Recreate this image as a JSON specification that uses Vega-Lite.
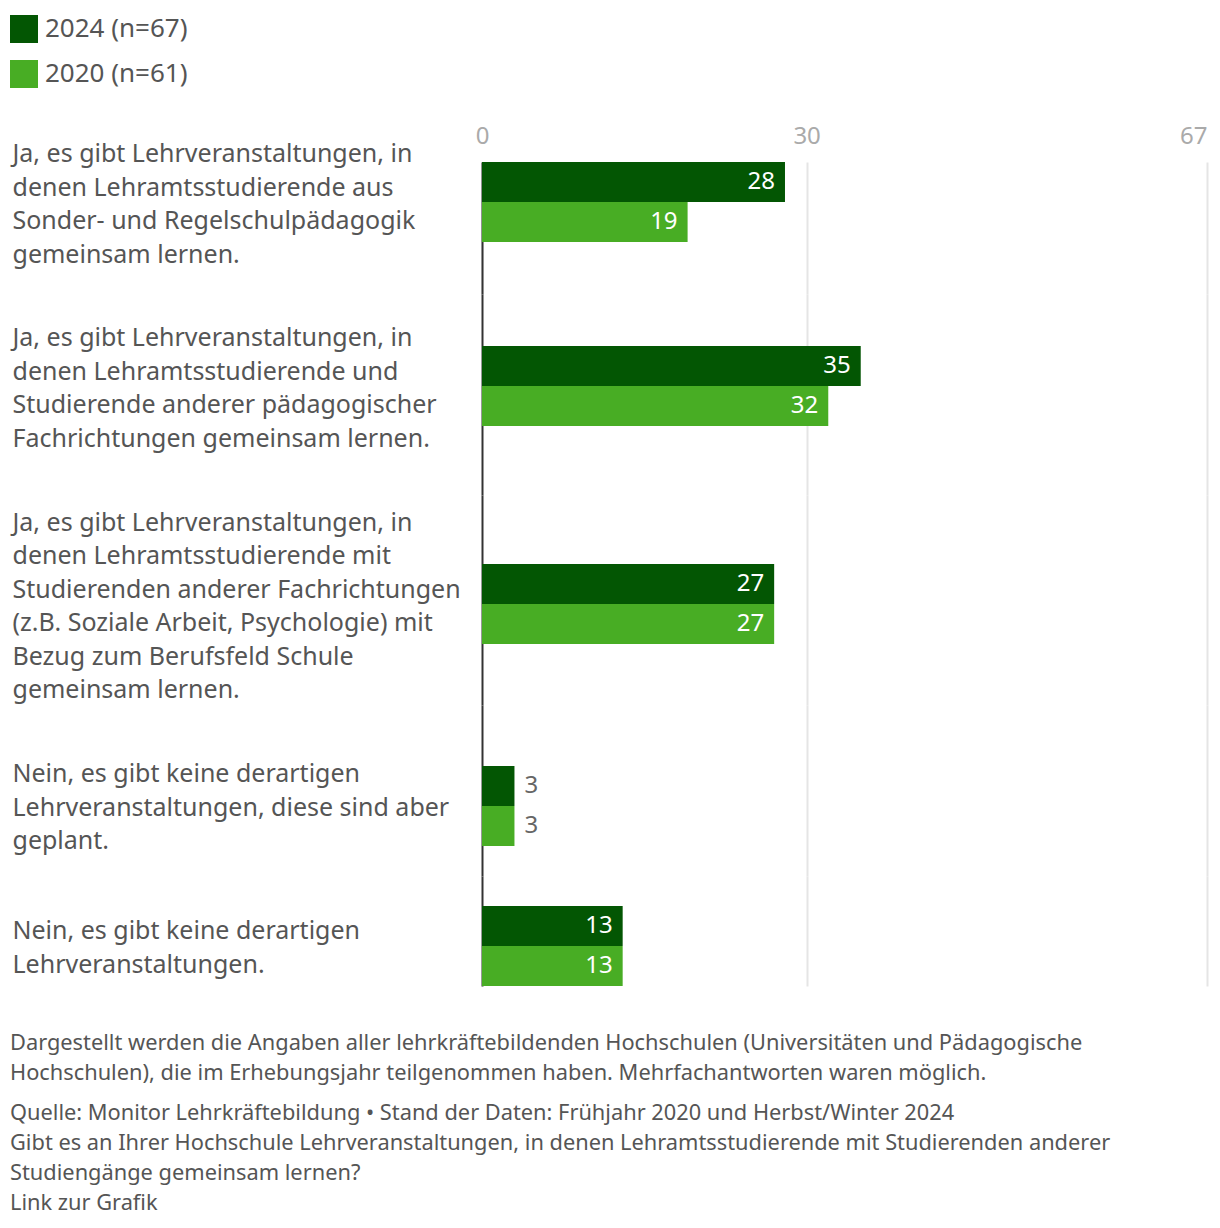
{
  "$schema": "https://vega.github.io/schema/vega-lite/v6.json",
  "padding": {"left": 10, "top": 15, "right": 13, "bottom": 10},
  "config": {
    "view": {"stroke": null},
    "font": "Noto Sans",
    "axis": {"titleFont": "Noto Sans", "labelFont": "Noto Sans"}
  },
  "data": {
    "values": [
      {"gruppe": "A", "antwort": "Ja, es gibt Lehrveranstaltungen, in\ndenen Lehramtsstudierende aus\nSonder- und Regelschulpädagogik\ngemeinsam lernen.", "jahr": "2024 (n=67)", "anzahl": 28},
      {"gruppe": "A", "antwort": "Ja, es gibt Lehrveranstaltungen, in\ndenen Lehramtsstudierende aus\nSonder- und Regelschulpädagogik\ngemeinsam lernen.", "jahr": "2020 (n=61)", "anzahl": 19},
      {"gruppe": "B", "antwort": "Ja, es gibt Lehrveranstaltungen, in\ndenen Lehramtsstudierende und\nStudierende anderer pädagogischer\nFachrichtungen gemeinsam lernen.", "jahr": "2024 (n=67)", "anzahl": 35},
      {"gruppe": "B", "antwort": "Ja, es gibt Lehrveranstaltungen, in\ndenen Lehramtsstudierende und\nStudierende anderer pädagogischer\nFachrichtungen gemeinsam lernen.", "jahr": "2020 (n=61)", "anzahl": 32},
      {"gruppe": "C", "antwort": "Ja, es gibt Lehrveranstaltungen, in\ndenen Lehramtsstudierende mit\nStudierenden anderer Fachrichtungen\n(z.B. Soziale Arbeit, Psychologie) mit\nBezug zum Berufsfeld Schule\ngemeinsam lernen.", "jahr": "2024 (n=67)", "anzahl": 27},
      {"gruppe": "C", "antwort": "Ja, es gibt Lehrveranstaltungen, in\ndenen Lehramtsstudierende mit\nStudierenden anderer Fachrichtungen\n(z.B. Soziale Arbeit, Psychologie) mit\nBezug zum Berufsfeld Schule\ngemeinsam lernen.", "jahr": "2020 (n=61)", "anzahl": 27},
      {"gruppe": "D", "antwort": "Nein, es gibt keine derartigen\nLehrveranstaltungen, diese sind aber\ngeplant.", "jahr": "2024 (n=67)", "anzahl": 3},
      {"gruppe": "D", "antwort": "Nein, es gibt keine derartigen\nLehrveranstaltungen, diese sind aber\ngeplant.", "jahr": "2020 (n=61)", "anzahl": 3},
      {"gruppe": "E", "antwort": "Nein, es gibt keine derartigen\nLehrveranstaltungen.", "jahr": "2024 (n=67)", "anzahl": 13},
      {"gruppe": "E", "antwort": "Nein, es gibt keine derartigen\nLehrveranstaltungen.", "jahr": "2020 (n=61)", "anzahl": 13}
    ]
  },
  "title": {
    "text": [
      "Dargestellt werden die Angaben aller lehrkräftebildenden Hochschulen (Universitäten und Pädagogische",
      "Hochschulen), die im Erhebungsjahr teilgenommen haben. Mehrfachantworten waren möglich."
    ],
    "subtitle": [
      "Quelle: Monitor Lehrkräftebildung • Stand der Daten: Frühjahr 2020 und Herbst/Winter 2024",
      "Gibt es an Ihrer Hochschule Lehrveranstaltungen, in denen Lehramtsstudierende mit Studierenden anderer",
      "Studiengänge gemeinsam lernen?",
      "Link zur Grafik"
    ],
    "orient": "bottom",
    "anchor": "start",
    "offset": 47,
    "font": "Noto Sans",
    "subtitleFont": "Noto Sans",
    "fontSize": 21.8,
    "subtitleFontSize": 21.8,
    "fontWeight": "normal",
    "color": "#555555",
    "subtitleColor": "#555555",
    "lineHeight": 30,
    "subtitleLineHeight": 30,
    "subtitlePadding": 18
  },
  "spacing": 0,
  "bounds": "flush",
  "resolve": {"scale": {"y": "independent", "yOffset": "independent"}},
  "vconcat": [
    {
      "width": 725,
      "height": 132,
      "transform": [{"filter": "datum.gruppe == 'A'"}],
      "encoding": {
        "y": {
          "field": "antwort", "type": "nominal", "title": null,
          "scale": {"paddingInner": 0, "paddingOuter": 0.325, "align": 0},
          "axis": {"labelExpr": "split(datum.label, '\\n')", "labelOffset": -48, "labelAlign": "left", "labelPadding": 470, "labelLimit": 600, "labelFontSize": 25, "labelLineHeight": 33.5, "labelColor": "#555555", "ticks": false, "domainColor": "#333333", "domainWidth": 2}
        },
        "yOffset": {"field": "jahr", "type": "nominal", "sort": ["2024 (n=67)", "2020 (n=61)"], "scale": {"paddingInner": 0, "paddingOuter": 0}},
        "x": {
          "field": "anzahl", "type": "quantitative",
          "scale": {"domain": [0, 67], "nice": false},
          "axis": {"orient": "top", "values": [0, 30, 67], "title": null, "domain": false, "ticks": false, "labelFlush": false, "labelAlign": {"condition": {"test": "datum.value == 67", "value": "right"}, "value": "center"}, "labelFontSize": 24, "labelColor": "#aaaaaa", "labelPadding": 14, "gridColor": "#e5e5e5", "gridWidth": 2}
        }
      },
      "layer": [
        {
          "mark": "bar",
          "encoding": {
            "color": {
              "field": "jahr", "type": "nominal",
              "scale": {"domain": ["2024 (n=67)", "2020 (n=61)"], "range": ["#035603", "#48ad24"]},
              "legend": {"title": null, "orient": "none", "legendX": -472, "legendY": -147, "symbolType": "square", "symbolSize": 784, "symbolStrokeWidth": 0, "labelFontSize": 26, "labelColor": "#555555", "rowPadding": 17, "labelOffset": 7}
            }
          }
        },
        {
          "transform": [{"filter": "datum.anzahl >= 10"}],
          "mark": {"type": "text", "align": "right", "dx": -10, "fontSize": 24, "color": "white"},
          "encoding": {"text": {"field": "anzahl"}}
        },
        {
          "transform": [{"filter": "datum.anzahl < 10"}],
          "mark": {"type": "text", "align": "left", "dx": 10, "fontSize": 24, "color": "#666666"},
          "encoding": {"text": {"field": "anzahl"}}
        }
      ]
    },
    {
      "width": 725,
      "height": 201,
      "transform": [{"filter": "datum.gruppe == 'B'"}],
      "encoding": {
        "y": {
          "field": "antwort", "type": "nominal", "title": null,
          "scale": {"paddingInner": 0, "paddingOuter": 0.75625, "align": 0.4298},
          "axis": {"labelExpr": "split(datum.label, '\\n')", "labelOffset": -48, "labelAlign": "left", "labelPadding": 470, "labelLimit": 600, "labelFontSize": 25, "labelLineHeight": 33.5, "labelColor": "#555555", "ticks": false, "domainColor": "#333333", "domainWidth": 2}
        },
        "yOffset": {"field": "jahr", "type": "nominal", "sort": ["2024 (n=67)", "2020 (n=61)"], "scale": {"paddingInner": 0, "paddingOuter": 0}},
        "x": {
          "field": "anzahl", "type": "quantitative",
          "scale": {"domain": [0, 67], "nice": false},
          "axis": {"values": [30, 67], "title": null, "labels": false, "domain": false, "ticks": false, "gridColor": "#e5e5e5", "gridWidth": 2}
        }
      },
      "layer": [
        {
          "mark": "bar",
          "encoding": {
            "color": {"field": "jahr", "type": "nominal", "scale": {"domain": ["2024 (n=67)", "2020 (n=61)"], "range": ["#035603", "#48ad24"]}}
          }
        },
        {
          "transform": [{"filter": "datum.anzahl >= 10"}],
          "mark": {"type": "text", "align": "right", "dx": -10, "fontSize": 24, "color": "white"},
          "encoding": {"text": {"field": "anzahl"}}
        },
        {
          "transform": [{"filter": "datum.anzahl < 10"}],
          "mark": {"type": "text", "align": "left", "dx": 10, "fontSize": 24, "color": "#666666"},
          "encoding": {"text": {"field": "anzahl"}}
        }
      ]
    },
    {
      "width": 725,
      "height": 210,
      "transform": [{"filter": "datum.gruppe == 'C'"}],
      "encoding": {
        "y": {
          "field": "antwort", "type": "nominal", "title": null,
          "scale": {"paddingInner": 0, "paddingOuter": 0.8125, "align": 0.5308},
          "axis": {"labelExpr": "split(datum.label, '\\n')", "labelOffset": -81.5, "labelAlign": "left", "labelPadding": 470, "labelLimit": 600, "labelFontSize": 25, "labelLineHeight": 33.5, "labelColor": "#555555", "ticks": false, "domainColor": "#333333", "domainWidth": 2}
        },
        "yOffset": {"field": "jahr", "type": "nominal", "sort": ["2024 (n=67)", "2020 (n=61)"], "scale": {"paddingInner": 0, "paddingOuter": 0}},
        "x": {
          "field": "anzahl", "type": "quantitative",
          "scale": {"domain": [0, 67], "nice": false},
          "axis": {"values": [30, 67], "title": null, "labels": false, "domain": false, "ticks": false, "gridColor": "#e5e5e5", "gridWidth": 2}
        }
      },
      "layer": [
        {
          "mark": "bar",
          "encoding": {
            "color": {"field": "jahr", "type": "nominal", "scale": {"domain": ["2024 (n=67)", "2020 (n=61)"], "range": ["#035603", "#48ad24"]}}
          }
        },
        {
          "transform": [{"filter": "datum.anzahl >= 10"}],
          "mark": {"type": "text", "align": "right", "dx": -10, "fontSize": 24, "color": "white"},
          "encoding": {"text": {"field": "anzahl"}}
        },
        {
          "transform": [{"filter": "datum.anzahl < 10"}],
          "mark": {"type": "text", "align": "left", "dx": 10, "fontSize": 24, "color": "#666666"},
          "encoding": {"text": {"field": "anzahl"}}
        }
      ]
    },
    {
      "width": 725,
      "height": 171,
      "transform": [{"filter": "datum.gruppe == 'D'"}],
      "encoding": {
        "y": {
          "field": "antwort", "type": "nominal", "title": null,
          "scale": {"paddingInner": 0, "paddingOuter": 0.56875, "align": 0.6703},
          "axis": {"labelExpr": "split(datum.label, '\\n')", "labelOffset": -31.5, "labelAlign": "left", "labelPadding": 470, "labelLimit": 600, "labelFontSize": 25, "labelLineHeight": 33.5, "labelColor": "#555555", "ticks": false, "domainColor": "#333333", "domainWidth": 2}
        },
        "yOffset": {"field": "jahr", "type": "nominal", "sort": ["2024 (n=67)", "2020 (n=61)"], "scale": {"paddingInner": 0, "paddingOuter": 0}},
        "x": {
          "field": "anzahl", "type": "quantitative",
          "scale": {"domain": [0, 67], "nice": false},
          "axis": {"values": [30, 67], "title": null, "labels": false, "domain": false, "ticks": false, "gridColor": "#e5e5e5", "gridWidth": 2}
        }
      },
      "layer": [
        {
          "mark": "bar",
          "encoding": {
            "color": {"field": "jahr", "type": "nominal", "scale": {"domain": ["2024 (n=67)", "2020 (n=61)"], "range": ["#035603", "#48ad24"]}}
          }
        },
        {
          "transform": [{"filter": "datum.anzahl >= 10"}],
          "mark": {"type": "text", "align": "right", "dx": -10, "fontSize": 24, "color": "white"},
          "encoding": {"text": {"field": "anzahl"}}
        },
        {
          "transform": [{"filter": "datum.anzahl < 10"}],
          "mark": {"type": "text", "align": "left", "dx": 10, "fontSize": 24, "color": "#666666"},
          "encoding": {"text": {"field": "anzahl"}}
        }
      ]
    },
    {
      "width": 725,
      "height": 110,
      "transform": [{"filter": "datum.gruppe == 'E'"}],
      "encoding": {
        "y": {
          "field": "antwort", "type": "nominal", "title": null,
          "scale": {"paddingInner": 0, "paddingOuter": 0.1875, "align": 1},
          "axis": {"labelExpr": "split(datum.label, '\\n')", "labelOffset": -14.75, "labelAlign": "left", "labelPadding": 470, "labelLimit": 600, "labelFontSize": 25, "labelLineHeight": 33.5, "labelColor": "#555555", "ticks": false, "domainColor": "#333333", "domainWidth": 2}
        },
        "yOffset": {"field": "jahr", "type": "nominal", "sort": ["2024 (n=67)", "2020 (n=61)"], "scale": {"paddingInner": 0, "paddingOuter": 0}},
        "x": {
          "field": "anzahl", "type": "quantitative",
          "scale": {"domain": [0, 67], "nice": false},
          "axis": {"values": [30, 67], "title": null, "labels": false, "domain": false, "ticks": false, "gridColor": "#e5e5e5", "gridWidth": 2}
        }
      },
      "layer": [
        {
          "mark": "bar",
          "encoding": {
            "color": {"field": "jahr", "type": "nominal", "scale": {"domain": ["2024 (n=67)", "2020 (n=61)"], "range": ["#035603", "#48ad24"]}}
          }
        },
        {
          "transform": [{"filter": "datum.anzahl >= 10"}],
          "mark": {"type": "text", "align": "right", "dx": -10, "fontSize": 24, "color": "white"},
          "encoding": {"text": {"field": "anzahl"}}
        },
        {
          "transform": [{"filter": "datum.anzahl < 10"}],
          "mark": {"type": "text", "align": "left", "dx": 10, "fontSize": 24, "color": "#666666"},
          "encoding": {"text": {"field": "anzahl"}}
        }
      ]
    }
  ]
}
